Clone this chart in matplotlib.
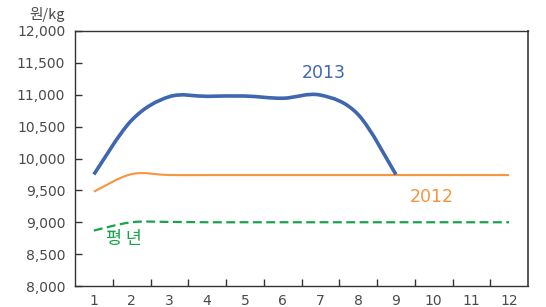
import matplotlib
matplotlib.use("Agg")
import matplotlib.pyplot as plt
from matplotlib.path import Path
from matplotlib.patches import PathPatch
import numpy as np

plt.rcParams['font.family'] = ['DejaVu Sans', 'Noto Sans CJK KR']

months = list(range(1, 13))
month_labels = [str(m) for m in months]

y2013_x = [1, 2, 3, 4, 5, 6, 7, 8, 9]
y2013 = [9750, 10600, 10970, 10975, 10980, 10945, 10995, 10690, 9750]

y2012_x = months
y2012 = [9480, 9755, 9740, 9740, 9740, 9740, 9740, 9740, 9740, 9740, 9740, 9740]

avg_x = months
avg = [8870, 9000, 9005, 9000, 9000, 9000, 9000, 9000, 9000, 9000, 9000, 9000]

yticks = [8000, 8500, 9000, 9500, 10000, 10500, 11000, 11500, 12000]

BLUE = '#3f66b0'
ORANGE = '#f7943c'
GREEN = '#17a34a'
TXT = '#4a4a4a'
KR = ['Noto Sans CJK KR', 'DejaVu Sans']


def smooth_path(xs, ys, t=0.5):
    xs = np.asarray(xs, float)
    ys = np.asarray(ys, float)
    n = len(xs)
    verts = [(xs[0], ys[0])]
    codes = [Path.MOVETO]
    for i in range(n - 1):
        p0 = np.array([xs[max(i - 1, 0)], ys[max(i - 1, 0)]])
        p1 = np.array([xs[i], ys[i]])
        p2 = np.array([xs[i + 1], ys[i + 1]])
        p3 = np.array([xs[min(i + 2, n - 1)], ys[min(i + 2, n - 1)]])
        c1 = p1 + (p2 - p0) * t / 3
        c2 = p2 - (p3 - p1) * t / 3
        verts += [tuple(c1), tuple(c2), tuple(p2)]
        codes += [Path.CURVE4] * 3
    return Path(verts, codes)


fig = plt.figure(figsize=(5.46, 3.07), dpi=100)
ax = fig.add_axes([75 / 546, 1 - 286 / 307, 453 / 546, 255 / 307])

ax.set_xlim(0.5, 12.5)
ax.set_ylim(8000, 12000)

ax.add_patch(PathPatch(smooth_path(avg_x, avg), fill=False, edgecolor=GREEN,
                       lw=1.6, linestyle=(0, (4, 2)), capstyle='butt'))
ax.add_patch(PathPatch(smooth_path(y2012_x, y2012), fill=False, edgecolor=ORANGE,
                       lw=1.5))
ax.add_patch(PathPatch(smooth_path(y2013_x, y2013), fill=False, edgecolor=BLUE,
                       lw=2.6, capstyle='butt'))

ax.set_yticks(yticks)
ax.set_yticklabels([f"{v:,}" for v in yticks])
ax.set_xticks(months)
ax.set_xticklabels(month_labels)
ax.set_xticks([m + 0.5 for m in months[:-1]], minor=True)

ax.tick_params(axis='x', which='major', length=0, pad=6, labelsize=10, colors=TXT)
ax.tick_params(axis='x', which='minor', direction='in', length=5, width=1, color='#333333')
ax.tick_params(axis='y', direction='in', length=5, width=1, color='#333333',
               labelsize=10, labelcolor=TXT, pad=7)
for lbl in ax.get_yticklabels() + ax.get_xticklabels():
    lbl.set_color(TXT)

for s in ax.spines.values():
    s.set_color('#333333')
    s.set_linewidth(1.0)
ax.spines['right'].set_linewidth(1.4)
ax.spines['right'].set_color('#555555')

fig.text(47 / 546, 1 - 15 / 307, "원/kg", ha='center', va='center', fontsize=10.5,
         color=TXT, family=KR)

ax.text(7.1, 11340, "2013", color=BLUE, fontsize=12.5, ha='center', va='center')
ax.text(9.95, 9400, "2012", color=ORANGE, fontsize=12.5, ha='center', va='center')
ax.text(1.8, 8730, "평 년", color=GREEN, fontsize=12.5, ha='center', va='center',
        family=KR)

fig.savefig("out.png", dpi=100)
